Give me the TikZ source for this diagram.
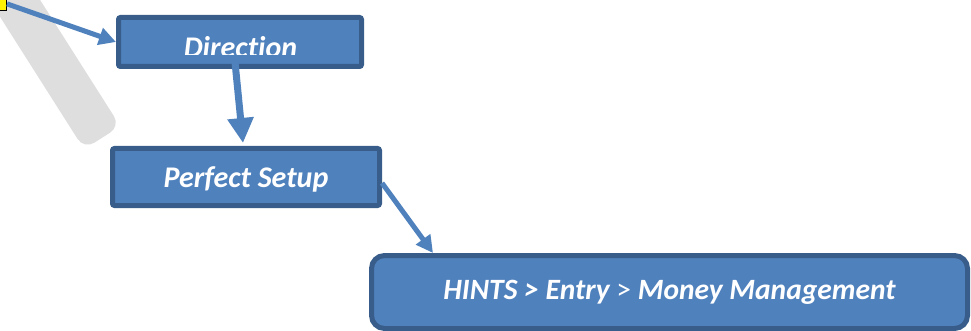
\documentclass[tikz,border=0pt]{standalone}
\usepackage{fontspec}
\setmainfont{Carlito}[Ligatures={NoCommon}]
\usepackage{tikz}
\usepackage{xcolor}
\usetikzlibrary{arrows.meta, positioning, calc}
\definecolor{boxblue}{HTML}{4F81BD}
\definecolor{boxedge}{HTML}{385D8A}
\definecolor{barback}{HTML}{DEDEDE}
\tikzset{
  stagefont/.style={text=white, font=\fontsize{30}{36}\selectfont\bfseries\itshape},
  stage/.style={draw=boxedge, fill=boxblue, line width=5pt, rounded corners=2pt, inner sep=0pt, stagefont},
  flow/.style={draw=boxblue, line width=5pt, -{Triangle[length=17pt,width=17pt]}}
}

\begin{document}
\begin{tikzpicture}[x=1pt, y=-1pt]
\useasboundingbox (0,0) rectangle (971,331);
\clip (0,0) rectangle (971,331);
\fill[barback, rounded corners=12pt] (-16.4,-89) -- (120.3,126.2) -- (84.1,149.2) -- (-52.6,-66) -- cycle;
\node[draw=black, fill=yellow, line width=1pt, minimum width=21pt, minimum height=21pt] (marker) at (-4,0) {};
\node[stage, minimum width=243pt, minimum height=49pt] (direction) at (240,42) {};
\begin{scope}
  \clip (120,20) rectangle (360,55);
  \node[stagefont, anchor=base, inner sep=0pt] (dirlabel) at (240.5,58) {Direction};
\end{scope}
\node[stage, text depth=0pt, minimum width=267pt, minimum height=57pt] (setup) at (246,177) {Perfect Setup};
\node[stage, rounded corners=13pt, minimum width=596pt, minimum height=73pt, font=\fontsize{29.5}{34}\selectfont\bfseries\itshape] (hints) at (669.5,292)
  {HINTS > Entry {\mdseries\upshape >} Money Management};
\draw[flow] (marker) -- (direction.west);
\draw[flow, line width=7pt, -{Triangle[length=25pt,width=25pt]}] ([xshift=-5pt,yshift=7pt]direction.south) -- ([xshift=-3pt,yshift=3pt]setup.north);
\draw[flow] ([yshift=-6pt]setup.east) -- ([xshift=64pt]hints.north west);
\end{tikzpicture}
\end{document}
